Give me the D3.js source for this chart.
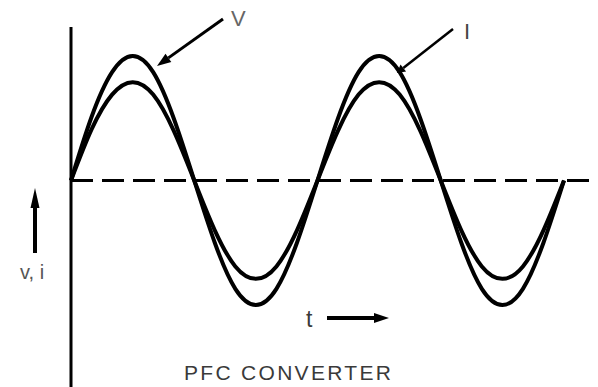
<!DOCTYPE html>
<html>
<head>
<meta charset="utf-8">
<script src="https://cdnjs.cloudflare.com/ajax/libs/d3/7.8.5/d3.min.js"></script>
<style>
  body { margin: 0; background: #fff; }
  text { font-family: "Liberation Sans", Arial, sans-serif; fill: #3a3a3a; }
</style>
</head>
<body>
<svg width="598" height="387"></svg>
<script>
// phase in degrees, read every 30 deg along the time axis
var phase = [0, 30, 60, 90, 120, 150, 180, 210, 240, 270, 300, 330, 360,
             390, 420, 450, 480, 510, 540, 570, 600, 630, 660, 690, 720];
// voltage (outer curve), normalised to its peak
var vValues = [0, 0.51, 0.87, 1, 0.87, 0.5, 0, -0.5, -0.87, -1, -0.87, -0.5, 0,
               0.5, 0.87, 1, 0.87, 0.5, 0, -0.5, -0.87, -1, -0.87, -0.5, 0];
// current (inner curve)
var iValues = [0, 0.41, 0.69, 0.79, 0.69, 0.4, 0, -0.4, -0.69, -0.79, -0.69, -0.4, 0,
               0.4, 0.69, 0.79, 0.69, 0.4, 0, -0.4, -0.69, -0.79, -0.69, -0.4, 0];

function main() {
    var svg = d3.select("svg");

    var xScale = d3.scaleLinear().domain([0, 720]).range([71, 564]),
        yScale = d3.scaleLinear().domain([-1, 1]).range([305, 56]);

    // vertical axis
    svg.append("line")
        .attr("x1", xScale(0)).attr("x2", xScale(0))
        .attr("y1", 27).attr("y2", 387)
        .attr("stroke", "#000").attr("stroke-width", 3);

    // dashed zero line
    svg.append("line")
        .attr("x1", xScale(0)).attr("x2", 598)
        .attr("y1", yScale(0)).attr("y2", yScale(0))
        .attr("stroke", "#000").attr("stroke-width", 3)
        .attr("stroke-dasharray", "22,9");

    var line = d3.line()
        .x(function(d){ return xScale(d[0]); })
        .y(function(d){ return yScale(d[1]); })
        .curve(d3.curveNatural);

    [vValues, iValues].forEach(function(vals){
        svg.append("path")
            .datum(phase.map(function(p, k){ return [p, vals[k]]; }))
            .attr("d", line)
            .attr("fill", "none")
            .attr("stroke", "#000")
            .attr("stroke-width", 4);
    });

    // arrow: shaft + filled head at (x2,y2)
    function arrow(x1, y1, x2, y2, w, headLen, headW) {
        var a = Math.atan2(y2 - y1, x2 - x1);
        var bx = x2 - headLen * Math.cos(a), by = y2 - headLen * Math.sin(a);
        svg.append("line")
            .attr("x1", x1).attr("y1", y1).attr("x2", bx).attr("y2", by)
            .attr("stroke", "#000").attr("stroke-width", w);
        var px = -Math.sin(a) * headW / 2, py = Math.cos(a) * headW / 2;
        svg.append("path")
            .attr("d", "M" + x2 + "," + y2 + "L" + (bx + px) + "," + (by + py) +
                       "L" + (bx - px) + "," + (by - py) + "Z")
            .attr("fill", "#000");
    }

    arrow(223, 19, 157, 66, 3, 14, 10);
    arrow(453, 29, 397, 73, 2.5, 8, 9);
    arrow(35, 253, 35, 188, 4, 20, 9);
    arrow(327, 318, 389, 318, 4, 15, 10);

    svg.append("text").attr("x", 231).attr("y", 26)
        .style("font-size", "22px").style("fill", "#666").text("V");
    svg.append("text").attr("x", 464).attr("y", 39)
        .style("font-size", "22px").style("fill", "#444").text("I");
    svg.append("text").attr("x", 20).attr("y", 279)
        .style("font-size", "20px").style("fill", "#555").text("v, i");
    svg.append("text").attr("x", 306).attr("y", 327)
        .style("font-size", "23px").text("t");
    svg.append("text").attr("x", 184).attr("y", 380)
        .style("font-size", "21px").style("letter-spacing", "2.3px")
        .text("PFC CONVERTER");
}
main();
</script>
</body>
</html>
